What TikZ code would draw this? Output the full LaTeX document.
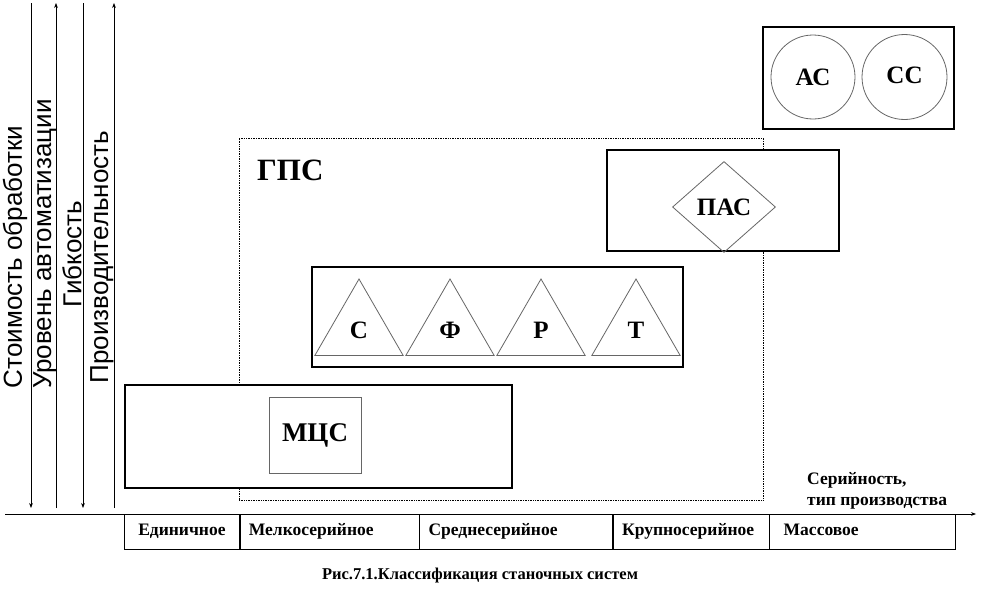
\documentclass[tikz,border=0pt]{standalone}
\usepackage{fontspec}
\setmainfont{Liberation Serif}
\setsansfont{Liberation Sans}
\usetikzlibrary{arrows.meta, shapes.geometric}

\tikzset{
  frame/.style={draw, line width=2.4pt, inner sep=0pt},
  figure/.style={draw=black!60, line width=0.8pt, inner sep=0pt, font=\bfseries\fontsize{25}{25}\selectfont},
  cell/.style={draw, line width=0.6pt, inner xsep=9pt, text height=12pt, text depth=4pt, minimum height=35pt, align=left, font=\bfseries\fontsize{17.5}{17.5}\selectfont},
  axislabel/.style={rotate=90, font=\sffamily\fontsize{26}{26}\selectfont},
  axis/.style={line width=0.7pt},
}

\begin{document}
\begin{tikzpicture}[x=1pt, y=-1pt]
\useasboundingbox (0,0) rectangle (982,597);

% axes
\coordinate (x0) at (5,514);
\coordinate (x1) at (976,514);
\draw[axis, -{Stealth[length=5pt]}] (x0) -- (x1);
\coordinate (costtop) at (31,3);     \coordinate (costbot) at (31,508);
\coordinate (autotop) at (56,3);     \coordinate (autobot) at (56,508);
\coordinate (flextop) at (83,3);     \coordinate (flexbot) at (83,508);
\coordinate (prodtop) at (114,3);    \coordinate (prodbot) at (114,508);
\draw[axis, -{Stealth[length=5pt]}] (costtop) -- (costbot);
\draw[axis, -{Stealth[length=5pt]}] (autobot) -- (autotop);
\draw[axis, -{Stealth[length=5pt]}] (flextop) -- (flexbot);
\draw[axis, -{Stealth[length=5pt]}] (prodbot) -- (prodtop);
\node[axislabel] (cost) at (15,257) {Стоимость обработки};
\node[axislabel] (auto) at (45,244) {Уровень автоматизации};
\node[axislabel] (flex) at (72,254) {Гибкость};
\node[axislabel] (prod) at (102,257) {Производительность};

% GPS region
\node[draw, densely dotted, line width=0.7pt, minimum width=524pt, minimum height=362pt] (gps) at (501,319) {};
\node[anchor=west, font=\bfseries\fontsize{31}{31}\selectfont, inner sep=0pt] (gpslabel) at (257,170) {ГПС};

% MCS
\node[frame, fill=white, minimum width=387pt, minimum height=103pt] (mcsbox) at (318.5,436.5) {};
\node[figure, font=\bfseries\fontsize{27}{27}\selectfont, minimum width=92pt, minimum height=76pt] (mcs) at (315,435) {МЦС};

% machines
\node[frame, fill=white, minimum width=371pt, minimum height=100pt] (machbox) at (497.5,317) {};
\node[figure, regular polygon, regular polygon sides=3, minimum size=102pt] (tc) at (359,330) {С};
\node[figure, regular polygon, regular polygon sides=3, minimum size=102pt] (tf) at (450,330) {Ф};
\node[figure, regular polygon, regular polygon sides=3, minimum size=102pt] (tr) at (541,330) {Р};
\node[figure, regular polygon, regular polygon sides=3, minimum size=102pt] (tt) at (636,330) {Т};

% PAS
\node[frame, fill=white, minimum width=232pt, minimum height=101pt] (pasbox) at (723,200.5) {};
\node[figure, diamond, minimum width=103pt, minimum height=91pt] (pas) at (724,207) {ПАС};

% AS and SS
\node[frame, minimum width=191pt, minimum height=102pt] (asbox) at (858.5,78) {};
\node[figure, circle, minimum size=84pt] (as) at (813,77) {\raisebox{-3pt}{АС}};
\node[figure, circle, minimum size=85pt] (ss) at (904.5,77) {\raisebox{3pt}{СС}};

% type of production
\node[anchor=north west, align=left, inner sep=0pt, font=\bfseries\fontsize{17.5}{21}\selectfont] (serial) at (807,472) {Серийность,\\тип производства};
\node[cell, anchor=west, text width=97pt] (single) at (124,531.5) {\hspace*{5pt}Единичное};
\node[cell, anchor=west, text width=161pt] (small) at (single.east) {Мелкосерийное};
\node[cell, anchor=west, text width=175pt] (medium) at (small.east) {Среднесерийное};
\node[cell, anchor=west, text width=138pt] (large) at (medium.east) {Крупносерийное};
\node[cell, anchor=west, text width=168pt] (mass) at (large.east) {\hspace*{5pt}Массовое};

\node[font=\bfseries\fontsize{16.5}{16.5}\selectfont] (caption) at (480,576) {Рис.7.1.Классификация станочных систем};
\end{tikzpicture}
\end{document}
